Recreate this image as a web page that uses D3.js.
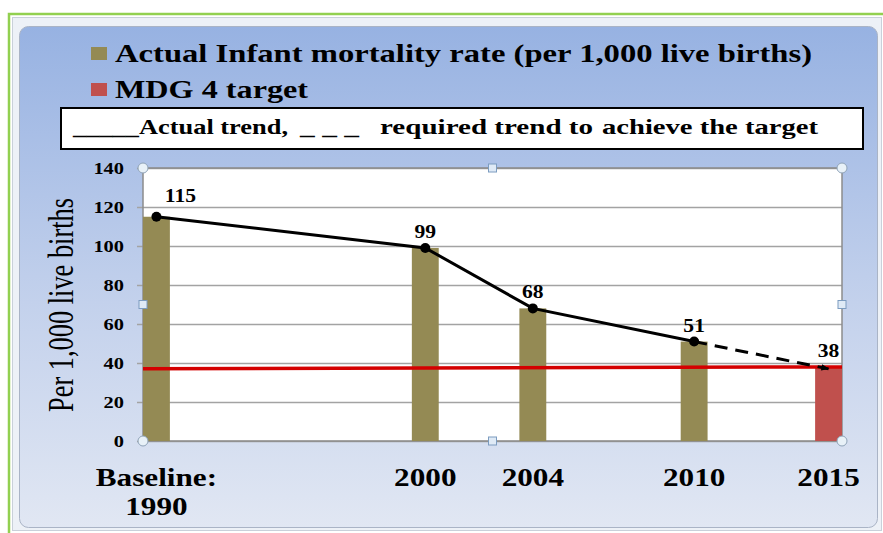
<!DOCTYPE html>
<html>
<head>
<meta charset="utf-8">
<script src="https://cdn.jsdelivr.net/npm/d3@7"></script>
<style>
  body { margin: 0; background: #fff; }
  svg { display: block; }
  text { font-family: "Liberation Serif", "Times New Roman", serif; font-weight: bold; fill: #000; }
</style>
</head>
<body>
<div id="chart"></div>
<script>
// data
var years = [1990, 2000, 2004, 2010, 2015];
var yearLabels = [["Baseline:", "1990"], ["2000"], ["2004"], ["2010"], ["2015"]];
var rates = [115, 99, 68, 51, 38];
var isTarget = [false, false, false, false, true];
var trendYears = [1990, 2000, 2004, 2010];
var trendValues = [115, 99, 68, 51];
var requiredYears = [2010, 2015];
var requiredValues = [51, 37];
var targetLineValues = [37, 38]; // red MDG 4 line, left end / right end
var yTicks = [0, 20, 40, 60, 80, 100, 120, 140];
var legendNames = ["Actual  Infant mortality rate (per 1,000 live births)", "MDG 4 target"];

var width = 883, height = 533,
    plot = {left: 143, right: 842, top: 168, bottom: 441},
    olive = '#948a54', red = '#c0504d', sx = 1.2;

var svg = d3.select('#chart').append('svg')
    .attr('width', width)
    .attr('height', height);

var defs = svg.append('defs');
var grad = defs.append('linearGradient').attr('id', 'panel')
    .attr('x1', 0).attr('y1', 0).attr('x2', 0).attr('y2', 1);
grad.append('stop').attr('offset', '0%').attr('stop-color', '#97b2e2');
grad.append('stop').attr('offset', '55%').attr('stop-color', '#c3d1ec');
grad.append('stop').attr('offset', '100%').attr('stop-color', '#e1e7f3');

defs.append('marker').attr('id', 'arrow')
    .attr('viewBox', '0 0 10 10').attr('refX', 9).attr('refY', 5)
    .attr('markerWidth', 11).attr('markerHeight', 8)
    .attr('markerUnits', 'userSpaceOnUse').attr('orient', 'auto')
  .append('path').attr('d', 'M0,1 L10,5 L0,9 Z').attr('fill', '#000');

// frames
svg.append('rect').attr('x', 9).attr('y', 14).attr('width', 900).attr('height', 600)
    .attr('fill', 'none').attr('stroke', '#92d050').attr('stroke-width', 2.5);
svg.append('rect').attr('x', 12.5).attr('y', 17.5).attr('width', 869).attr('height', 513)
    .attr('fill', '#edf1f7').attr('stroke', '#c9d0da');
svg.append('rect').attr('x', 19.5).attr('y', 26.5).attr('width', 858).attr('height', 501)
    .attr('rx', 9).attr('fill', 'url(#panel)').attr('stroke', '#aab4c6');

// stretched text helper (the picture is widened horizontally)
function label(parent, x, y, str, size, anchor, len) {
    var g = parent.append('g').attr('transform', 'translate(' + x + ',' + y + ') scale(' + (len ? 1 : sx) + ',1)');
    var t = g.append('text').attr('text-anchor', anchor || 'start')
        .style('font-size', size + 'px').text(str);
    if (len) t.attr('textLength', len).attr('lengthAdjust', 'spacingAndGlyphs');
    return t;
}

// legend
var legend = svg.append('g');
[olive, red].forEach(function (c, i) {
    legend.append('rect').attr('x', 91).attr('y', 47 + i * 36).attr('width', 16).attr('height', 13).attr('fill', c);
});
label(legend, 115, 62, legendNames[0], 26, 'start', 697);
label(legend, 115, 98, legendNames[1], 26, 'start', 193);

legend.append('rect').attr('x', 61).attr('y', 108).attr('width', 802).attr('height', 41)
    .attr('fill', '#fff').attr('stroke', '#000').attr('stroke-width', 2);
label(legend, 73, 134, '_____Actual trend,', 22, 'start', 215);
label(legend, 300, 134, '_ _ _', 22, 'start', 59);
label(legend, 380, 134, 'required  trend  to', 22, 'start', 213);
label(legend, 602, 134, 'achieve the target', 22, 'start', 216);

// scales
var x = d3.scaleLinear().domain([1989.5, 2015.5]).range([plot.left, plot.right]);
var y = d3.scaleLinear().domain([0, 140]).range([plot.bottom, plot.top]);

var chart = svg.append('g');
chart.append('rect').attr('x', plot.left).attr('y', plot.top)
    .attr('width', plot.right - plot.left).attr('height', plot.bottom - plot.top)
    .attr('fill', '#fff');

// gridlines + tick marks
var yAxis = d3.axisLeft(y).tickValues(yTicks).tickSize(-(plot.right - plot.left)).tickFormat('');
chart.append('g').attr('transform', 'translate(' + plot.left + ',0)').call(yAxis)
    .call(function (g) {
        g.select('.domain').remove();
        g.selectAll('.tick line').attr('stroke', '#a3a3a3').attr('stroke-width', 1.5)
            .attr('x1', -6);
    });
yTicks.forEach(function (v) {
    label(chart, 124, y(v) + 6, String(v), 17, 'end');
});

// plot border
chart.append('rect').attr('x', plot.left).attr('y', plot.top)
    .attr('width', plot.right - plot.left).attr('height', plot.bottom - plot.top)
    .attr('fill', 'none').attr('stroke', '#8c8c8c').attr('stroke-width', 1.5);

// bars
chart.selectAll('rect.bar').data(years).enter().append('rect').attr('class', 'bar')
    .attr('x', function (d) { return x(d - 0.5); })
    .attr('width', function (d) { return x(d + 0.5) - x(d - 0.5); })
    .attr('y', function (d, i) { return y(rates[i]); })
    .attr('height', function (d, i) { return y(0) - y(rates[i]); })
    .attr('fill', function (d, i) { return isTarget[i] ? red : olive; });

// MDG 4 target line
chart.append('line')
    .attr('x1', x(x.domain()[0])).attr('y1', y(targetLineValues[0]))
    .attr('x2', x(x.domain()[1])).attr('y2', y(targetLineValues[1]))
    .attr('stroke', '#d40000').attr('stroke-width', 3.5);

// actual trend
var line = d3.line().x(function (d) { return x(d[0]); }).y(function (d) { return y(d[1]); });
var trend = d3.zip(trendYears, trendValues);
chart.append('path').attr('d', line(trend))
    .attr('fill', 'none').attr('stroke', '#000').attr('stroke-width', 3);
chart.selectAll('circle.pt').data(trend).enter().append('circle').attr('class', 'pt')
    .attr('cx', function (d) { return x(d[0]); })
    .attr('cy', function (d) { return y(d[1]); })
    .attr('r', 5).attr('fill', '#000');

// required trend
chart.append('path').attr('d', line(d3.zip(requiredYears, requiredValues)))
    .attr('fill', 'none').attr('stroke', '#000').attr('stroke-width', 3)
    .attr('stroke-dasharray', '13,8').attr('marker-end', 'url(#arrow)');

// value labels
years.forEach(function (yr, i) {
    var dx = i === 0 ? 24 : 0, dy = i === 0 ? 15 : 10;
    label(chart, x(yr) + dx, y(rates[i]) - dy, String(rates[i]), 18, 'middle');
});

// x labels
years.forEach(function (yr, i) {
    yearLabels[i].forEach(function (s, j) {
        label(chart, x(yr), 486 + j * 29, s, 26, 'middle');
    });
});

// y title (regular weight)
svg.append('g').attr('transform', 'translate(73,305) rotate(-90) scale(1,1.34)')
  .append('text').attr('text-anchor', 'middle').style('font-size', '26px').style('font-weight', 'normal')
    .attr('textLength', 214).attr('lengthAdjust', 'spacingAndGlyphs')
    .text('Per 1,000 live births');

// selection handles on the plot area
var midX = (plot.left + plot.right) / 2, midY = (plot.top + plot.bottom) / 2;
[[plot.left, plot.top], [plot.right, plot.top], [plot.left, plot.bottom], [plot.right, plot.bottom]].forEach(function (p) {
    svg.append('circle').attr('cx', p[0]).attr('cy', p[1]).attr('r', 5)
        .attr('fill', '#e8f1f8').attr('stroke', '#8fa3b8');
});
[[midX, plot.top], [midX, plot.bottom], [plot.left, midY], [plot.right, midY]].forEach(function (p) {
    svg.append('rect').attr('x', p[0] - 4).attr('y', p[1] - 4).attr('width', 8).attr('height', 8)
        .attr('fill', '#dfeaf6').attr('stroke', '#7c9cc0');
});
</script>
</body>
</html>
